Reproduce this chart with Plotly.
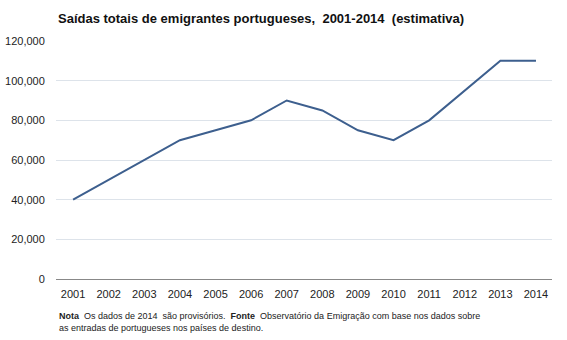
import plotly.graph_objects as go

years = ["2001", "2002", "2003", "2004", "2005", "2006", "2007",
         "2008", "2009", "2010", "2011", "2012", "2013", "2014"]
emigrants = [40000, 50000, 60000, 70000, 75000, 80000, 90000,
             85000, 75000, 70000, 80000, 95000, 110000, 110000]
y_ticks = [0, 20000, 40000, 60000, 80000, 100000, 120000]

fig = go.Figure()
fig.add_trace(go.Scatter(
    x=years, y=emigrants, mode="lines",
    line=dict(color="#3d5f8e", width=2),
    showlegend=False, hoverinfo="x+y",
))

font = "Arial, Liberation Sans, sans-serif"
fig.update_layout(
    width=567, height=340,
    margin=dict(l=56, r=15, t=41, b=61),
    paper_bgcolor="white", plot_bgcolor="white",
    font=dict(family=font, size=11, color="#222"),
    title=dict(
        text="<b>Saídas totais de emigrantes portugueses,  2001-2014  (estimativa)</b>",
        x=58 / 567, xanchor="left", y=1 - 18 / 340, yanchor="middle",
        font=dict(size=13, family=font, color="#111"),
    ),
    xaxis=dict(
        type="category", range=[-0.48, 13.45], automargin=False,
        showgrid=False, showline=False, zeroline=False,
        ticks="outside", ticklen=5, tickcolor="rgba(0,0,0,0)",
        tickfont=dict(size=11),
    ),
    yaxis=dict(
        range=[0, 120000], tickvals=y_ticks, automargin=False,
        tickformat=",d",
        showgrid=True, gridcolor="#dde3ea", gridwidth=1,
        zeroline=True, zerolinecolor="#888", zerolinewidth=1,
        showline=False,
        ticks="outside", ticklen=8, tickcolor="rgba(0,0,0,0)",
        tickfont=dict(size=11),
    ),
    annotations=[
        dict(
            text="<b>Nota</b>  Os dados de 2014  são provisórios.  <b>Fonte</b>  Observatório da Emigração com base nos dados sobre<br>as entradas de portugueses nos países de destino.",
            xref="paper", yref="paper", x=(57 - 56) / 496, xanchor="left",
            y=1 - (309 - 41) / 238, yanchor="top", showarrow=False, align="left",
            font=dict(size=9, family=font, color="#222"),
        )
    ],
)

fig.write_html("out.html")
